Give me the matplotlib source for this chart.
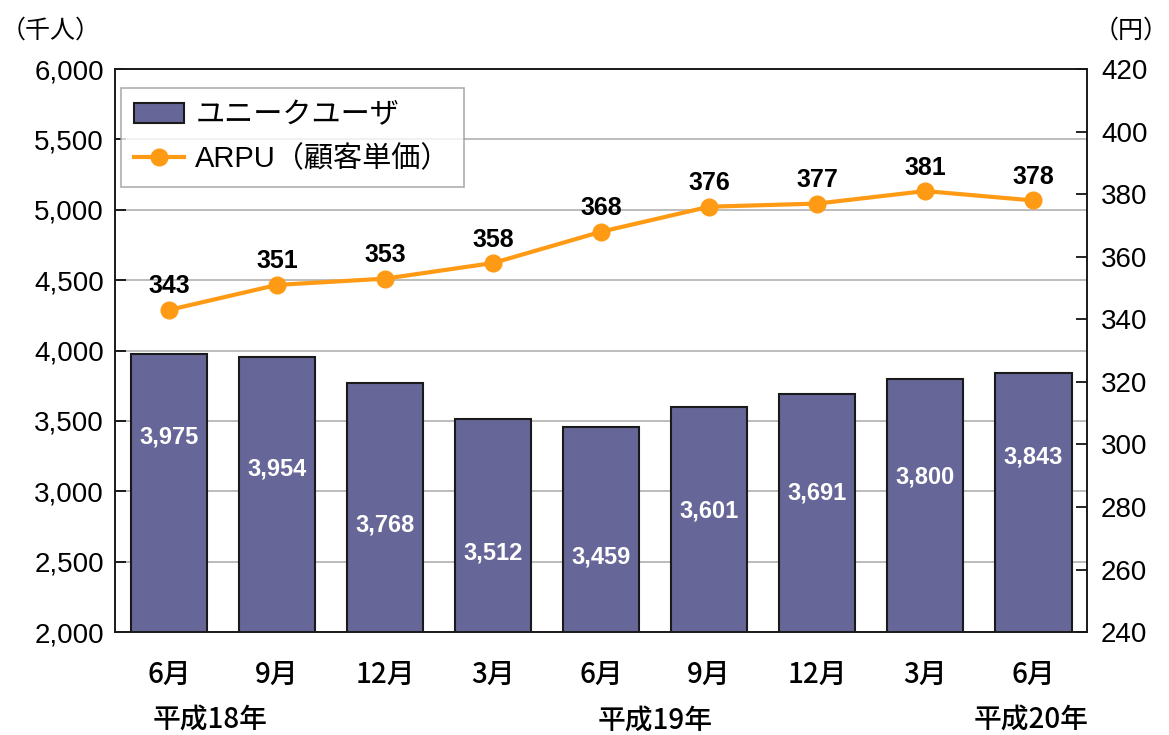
import matplotlib.pyplot as plt
import numpy as np

plt.rcParams['font.family'] = ['Liberation Sans', 'Noto Sans CJK JP']

# data
months = ['6月', '9月', '12月', '3月', '6月', '9月', '12月', '3月', '6月']
users = [3975, 3954, 3768, 3512, 3459, 3601, 3691, 3800, 3843]
arpu = [343, 351, 353, 358, 368, 376, 377, 381, 378]
# label heights used inside the bars (as placed in the original)
user_label_y = [3385, 3158, 2760, 2561, 2533, 2860, 2988, 3100, 3243]

bar_color = '#666699'
line_color = '#FF9A14'

fig = plt.figure(figsize=(11.69, 7.35), dpi=100)
ax = fig.add_axes([0.0984, 0.140, 0.8316, 0.766])
ax2 = ax.twinx()

x = np.arange(len(months))

ax.set_axisbelow(True)
ax.yaxis.grid(True, color='#b0b0b0', linewidth=1.2)
bars = ax.bar(x, users, width=0.71, color=bar_color, edgecolor='#1a1a1a',
              linewidth=1.5, label='ユニークユーザ', zorder=2)
for xi, v, ly in zip(x, users, user_label_y):
    ax.text(xi, ly, f'{v:,}', ha='center', va='center', color='white',
            fontsize=17, fontweight='bold', zorder=3)

ax.set_ylim(2000, 6000)
ax.set_yticks(np.arange(2000, 6001, 500))
ax.set_yticklabels([f'{v:,}' for v in range(2000, 6001, 500)], fontsize=20)
ax.set_xlim(-0.5, len(months) - 0.5)
ax.set_xticks(x)
ax.set_xticklabels(months, fontsize=20, family='Noto Sans CJK JP', fontweight='medium')
ax.tick_params(axis='x', length=0, pad=20)
ax.tick_params(axis='y', direction='in', length=8, width=1.2, pad=8)

line, = ax2.plot(x, arpu, color=line_color, linewidth=3, marker='o',
                 markersize=12, label='ARPU（顧客単価）', zorder=4)
for xi, v in zip(x, arpu):
    ax2.text(xi, v + 7.5, str(v), ha='center', va='center', fontsize=18,
             fontweight='bold', color='black')
ax2.set_ylim(240, 420)
ax2.set_yticks(np.arange(240, 421, 20))
ax2.tick_params(axis='y', direction='in', length=8, width=1.2, labelsize=20, pad=10)

for a in (ax, ax2):
    for s in a.spines.values():
        s.set_linewidth(1.2)
        s.set_color('#1a1a1a')

ax.set_zorder(ax2.get_zorder() - 1)
ax.patch.set_visible(True)
ax2.patch.set_visible(False)

leg = ax2.legend([bars, line], ['ユニークユーザ', 'ARPU（顧客単価）'],
                 loc='upper left', bbox_to_anchor=(0.006, 0.966), borderaxespad=0,
                 frameon=True, fancybox=False, edgecolor='#999999',
                 handlelength=1.7, handletextpad=0.4, borderpad=0.45,
                 labelspacing=0.55,
                 prop={'family': ['Liberation Sans', 'Noto Sans CJK JP'], 'size': 21})
leg.get_frame().set_linewidth(1.2)

fig.text(0.043, 0.958, '（千人）', fontsize=18, ha='center', va='center',
         family='Noto Sans CJK JP')
fig.text(0.968, 0.958, '（円）', fontsize=18, ha='center', va='center',
         family='Noto Sans CJK JP')
fig.text(0.180, 0.022, '平成18年', fontsize=20, ha='center', va='center',
         family='Noto Sans CJK JP', fontweight='medium')
fig.text(0.560, 0.020, '平成19年', fontsize=20, ha='center', va='center',
         family='Noto Sans CJK JP', fontweight='medium')
fig.text(0.882, 0.022, '平成20年', fontsize=20, ha='center', va='center',
         family='Noto Sans CJK JP', fontweight='medium')

fig.savefig('out.png', dpi=100)
